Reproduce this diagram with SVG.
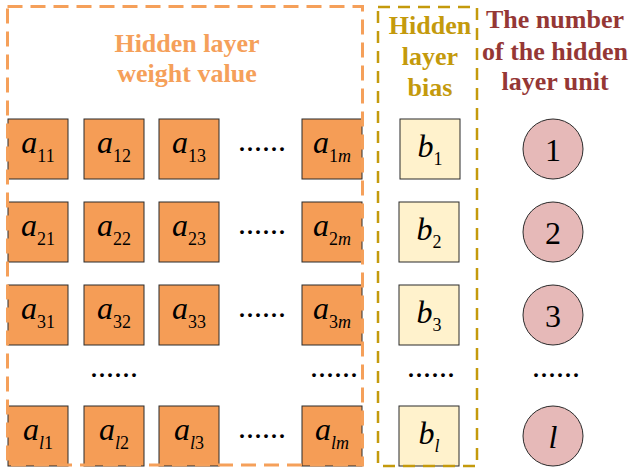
<svg xmlns="http://www.w3.org/2000/svg" width="632" height="470" viewBox="0 0 632 470">
<style>
.w{fill:#F59D56;stroke:#2b2b2b;stroke-width:1}
.b{fill:#FFF2CC;stroke:#2b2b2b;stroke-width:1}
.c{fill:#E6B9B8;stroke:#2b2b2b;stroke-width:1}
.t{font-family:"Liberation Serif","Times New Roman",serif;font-size:32px;fill:#000;text-anchor:middle}
.i{font-style:italic}
.s{font-size:18px}
.d{font-family:"Liberation Serif","Times New Roman",serif;font-size:32px;fill:#000;text-anchor:middle}
.h{font-family:"Liberation Serif","Times New Roman",serif;font-size:26px;font-weight:bold;text-anchor:middle}
</style>
<rect width="632" height="470" fill="#fff"/>

<g id="row1">
<g id="a11"><rect class="w" x="8" y="119" width="60" height="60"/><text class="t" x="38" y="153"><tspan class="i">a</tspan><tspan class="s" dy="9">11</tspan></text></g>
<g id="a12"><rect class="w" x="84" y="119" width="60" height="60"/><text class="t" x="114" y="153"><tspan class="i">a</tspan><tspan class="s" dy="9">12</tspan></text></g>
<g id="a13"><rect class="w" x="159" y="119" width="60" height="60"/><text class="t" x="189" y="153"><tspan class="i">a</tspan><tspan class="s" dy="9">13</tspan></text></g>
<text class="d" x="262" y="151">......</text>
<g id="a1m"><rect class="w" x="302" y="119" width="60" height="60"/><text class="t" x="332" y="153"><tspan class="i">a</tspan><tspan class="s" dy="9">1</tspan><tspan class="s i">m</tspan></text></g>
</g>

<g id="row2">
<g id="a21"><rect class="w" x="8" y="202" width="60" height="60"/><text class="t" x="38" y="236"><tspan class="i">a</tspan><tspan class="s" dy="9">21</tspan></text></g>
<g id="a22"><rect class="w" x="84" y="202" width="60" height="60"/><text class="t" x="114" y="236"><tspan class="i">a</tspan><tspan class="s" dy="9">22</tspan></text></g>
<g id="a23"><rect class="w" x="159" y="202" width="60" height="60"/><text class="t" x="189" y="236"><tspan class="i">a</tspan><tspan class="s" dy="9">23</tspan></text></g>
<text class="d" x="262" y="234">......</text>
<g id="a2m"><rect class="w" x="302" y="202" width="60" height="60"/><text class="t" x="332" y="236"><tspan class="i">a</tspan><tspan class="s" dy="9">2</tspan><tspan class="s i">m</tspan></text></g>
</g>

<g id="row3">
<g id="a31"><rect class="w" x="8" y="285" width="60" height="60"/><text class="t" x="38" y="319"><tspan class="i">a</tspan><tspan class="s" dy="9">31</tspan></text></g>
<g id="a32"><rect class="w" x="84" y="285" width="60" height="60"/><text class="t" x="114" y="319"><tspan class="i">a</tspan><tspan class="s" dy="9">32</tspan></text></g>
<g id="a33"><rect class="w" x="159" y="285" width="60" height="60"/><text class="t" x="189" y="319"><tspan class="i">a</tspan><tspan class="s" dy="9">33</tspan></text></g>
<text class="d" x="262" y="317">......</text>
<g id="a3m"><rect class="w" x="302" y="285" width="60" height="60"/><text class="t" x="332" y="319"><tspan class="i">a</tspan><tspan class="s" dy="9">3</tspan><tspan class="s i">m</tspan></text></g>
</g>

<g id="rowdots">
<text class="d" x="114" y="377">......</text>
<text class="d" x="334" y="377">......</text>
<text class="d" x="431" y="377">......</text>
<text class="d" x="556" y="377">......</text>
</g>

<g id="rowl">
<g id="al1"><rect class="w" x="8" y="406" width="60" height="60"/><text class="t" x="38" y="440"><tspan class="i">a</tspan><tspan class="s i" dy="9">l</tspan><tspan class="s">1</tspan></text></g>
<g id="al2"><rect class="w" x="84" y="406" width="60" height="60"/><text class="t" x="114" y="440"><tspan class="i">a</tspan><tspan class="s i" dy="9">l</tspan><tspan class="s">2</tspan></text></g>
<g id="al3"><rect class="w" x="159" y="406" width="60" height="60"/><text class="t" x="189" y="440"><tspan class="i">a</tspan><tspan class="s i" dy="9">l</tspan><tspan class="s">3</tspan></text></g>
<text class="d" x="262" y="438">......</text>
<g id="alm"><rect class="w" x="302" y="406" width="60" height="60"/><text class="t" x="332" y="440"><tspan class="i">a</tspan><tspan class="s i" dy="9">lm</tspan></text></g>
</g>

<g id="bias">
<g id="b1"><rect class="b" x="400" y="119" width="60" height="60"/><text class="t" x="430" y="157"><tspan class="i">b</tspan><tspan class="s" dy="8">1</tspan></text></g>
<g id="b2"><rect class="b" x="399" y="202" width="60" height="60"/><text class="t" x="429" y="240"><tspan class="i">b</tspan><tspan class="s" dy="8">2</tspan></text></g>
<g id="b3"><rect class="b" x="399" y="285" width="60" height="60"/><text class="t" x="429" y="323"><tspan class="i">b</tspan><tspan class="s" dy="8">3</tspan></text></g>
<g id="bl"><rect class="b" x="399" y="406" width="60" height="60"/><text class="t" x="429" y="444"><tspan class="i">b</tspan><tspan class="s i" dy="8">l</tspan></text></g>
</g>

<g id="units">
<g id="u1"><circle class="c" cx="553" cy="149" r="30"/><text class="t" x="553" y="161">1</text></g>
<g id="u2"><circle class="c" cx="553" cy="232" r="30"/><text class="t" x="553" y="244">2</text></g>
<g id="u3"><circle class="c" cx="553" cy="315" r="30"/><text class="t" x="553" y="327">3</text></g>
<g id="ul"><circle class="c" cx="553" cy="436" r="30"/><text class="t i" x="553" y="448">l</text></g>
</g>

<g id="weight-box">
<rect x="7.5" y="6.5" width="355" height="458.5" fill="none" stroke="#F5A05A" stroke-width="3" stroke-dasharray="15 8"/>
<text class="h" x="187" y="52" fill="#F5A05A">Hidden layer</text>
<text class="h" x="187" y="82" fill="#F5A05A">weight value</text>
</g>

<g id="bias-box">
<rect x="378" y="7" width="99" height="459" fill="none" stroke="#C49A0C" stroke-width="2.5" stroke-dasharray="12 8"/>
<text class="h" x="430" y="34" fill="#C49A0C">Hidden</text>
<text class="h" x="430" y="65" fill="#C49A0C">layer</text>
<text class="h" x="430" y="96" fill="#C49A0C">bias</text>
</g>

<g id="unit-title">
<text class="h" x="555" y="28" fill="#953735">The number</text>
<text class="h" x="555" y="60" fill="#953735">of the hidden</text>
<text class="h" x="555" y="90" fill="#953735">layer unit</text>
</g>
</svg>
